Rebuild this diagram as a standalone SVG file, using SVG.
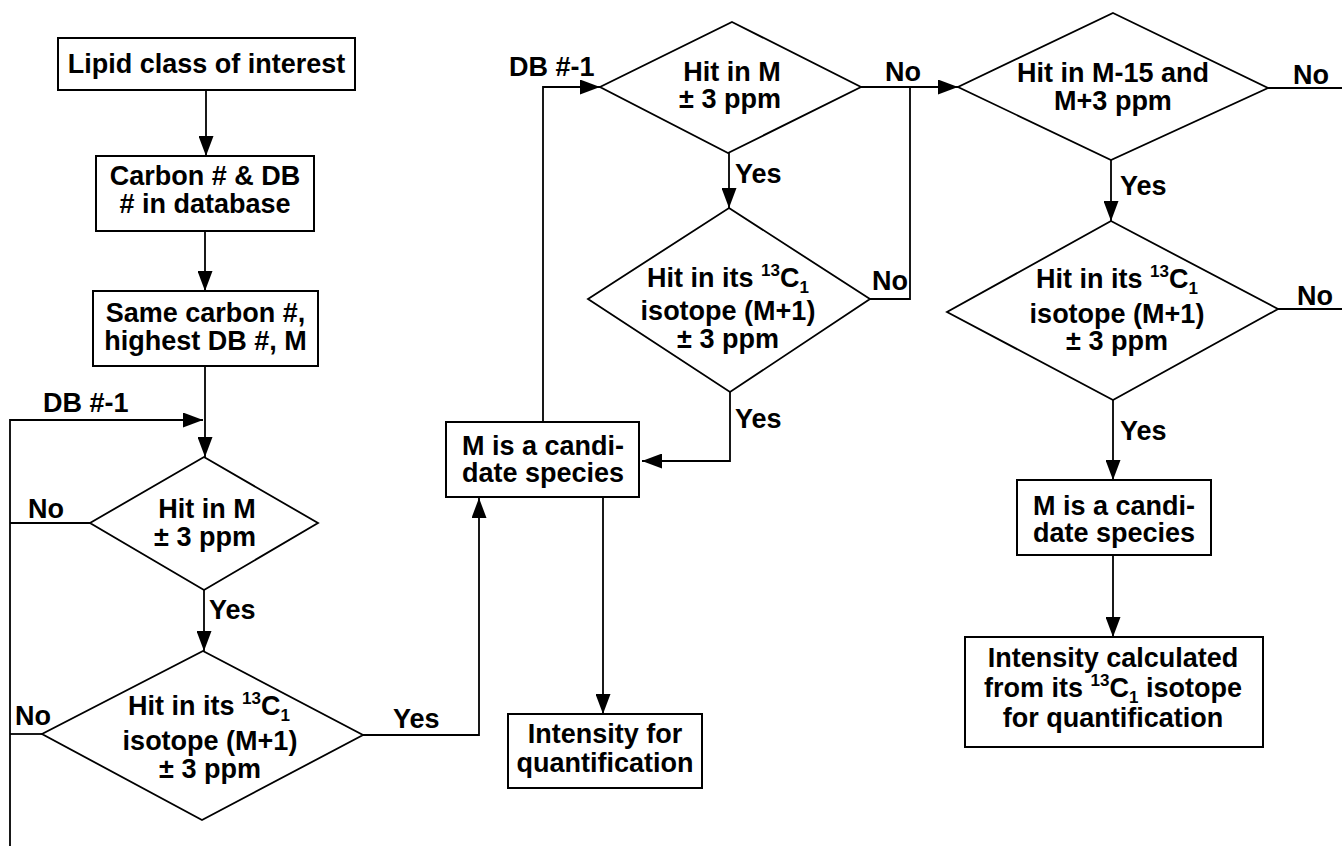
<svg xmlns="http://www.w3.org/2000/svg" width="1342" height="846" viewBox="0 0 1342 846">
<style>
text{font-family:"Liberation Sans",Arial,Helvetica,sans-serif;font-weight:bold;font-size:27px;fill:#000}
.c{text-anchor:middle}
.sup{font-size:17px}
.box{fill:#fff;stroke:#000;stroke-width:2}
.dia{fill:#fff;stroke:#000;stroke-width:1.8}
.ln{fill:none;stroke:#000;stroke-width:1.8}
.arr{fill:none;stroke:#000;stroke-width:1.8;marker-end:url(#ah)}
</style>
<defs>
<marker id="ah" markerUnits="userSpaceOnUse" markerWidth="20" markerHeight="15" refX="20" refY="7.5" orient="auto">
<path d="M0,0 L20,7.5 L0,15 z" fill="#000"/>
</marker>
</defs>
<rect width="1342" height="846" fill="#fff"/>
<g id="connectors">
<path class="arr" d="M206,90 V156"/>
<path class="arr" d="M205,231 V291"/>
<path class="arr" d="M205,366 V457"/>
<path class="arr" d="M10,846 V420 H203"/>
<path class="ln" d="M90,523 H10"/>
<path class="ln" d="M42,734 H10"/>
<path class="arr" d="M204,590 V651"/>
<path class="arr" d="M363,735 H479 V498"/>
<path class="arr" d="M543,422 V87 H600"/>
<path class="arr" d="M729,153 V208"/>
<path class="arr" d="M861,87 H958"/>
<path class="ln" d="M870,299 H910 V87"/>
<path class="arr" d="M730,392 V461 H642"/>
<path class="arr" d="M603,497 V714"/>
<path class="ln" d="M1268,88 H1342"/>
<path class="arr" d="M1111,160 V221"/>
<path class="ln" d="M1278,309 H1342"/>
<path class="arr" d="M1113,400 V480"/>
<path class="arr" d="M1113,555 V637"/>
</g>
<g id="labels">
<text x="43" y="412">DB #-1</text>
<text x="28" y="518">No</text>
<text x="209" y="619">Yes</text>
<text x="15" y="725">No</text>
<text x="393" y="728">Yes</text>
<text x="509" y="76">DB #-1</text>
<text x="885" y="81">No</text>
<text x="735" y="183">Yes</text>
<text x="872" y="290">No</text>
<text x="735" y="428">Yes</text>
<text x="1293" y="84">No</text>
<text x="1120" y="195">Yes</text>
<text x="1297" y="305">No</text>
<text x="1120" y="440">Yes</text>
</g>
<g id="n1">
<rect class="box" x="58" y="38" width="297" height="52"/>
<text class="c" x="206.5" y="73">Lipid class of interest</text>
</g>
<g id="n2">
<rect class="box" x="96" y="156" width="218" height="75"/>
<text class="c" x="205" y="185">Carbon # &amp; DB</text>
<text class="c" x="205" y="213"># in database</text>
</g>
<g id="n3">
<rect class="box" x="93" y="291" width="225" height="75"/>
<text class="c" x="205.5" y="322">Same carbon #,</text>
<text class="c" x="205.5" y="350">highest DB #, M</text>
</g>
<g id="d1">
<polygon class="dia" points="204,457 318,523 204,590 90,523"/>
<text class="c" x="207" y="518">Hit in M</text>
<text class="c" x="205" y="546">± 3 ppm</text>
</g>
<g id="d2">
<polygon class="dia" points="203,651 363,735 202,820 42,734"/>
<text class="c" x="209" y="715">Hit in its <tspan class="sup" dy="-11">13</tspan><tspan dy="11">C</tspan><tspan class="sup" dy="6">1</tspan></text>
<text class="c" x="210" y="750">isotope (M+1)</text>
<text class="c" x="210" y="778">± 3 ppm</text>
</g>
<g id="n4">
<rect class="box" x="446" y="422" width="193" height="75"/>
<text class="c" x="543" y="455">M is a candi-</text>
<text class="c" x="543" y="482">date species</text>
</g>
<g id="n5">
<rect class="box" x="508" y="714" width="194" height="74"/>
<text class="c" x="605" y="743">Intensity for</text>
<text class="c" x="605" y="772">quantification</text>
</g>
<g id="d3">
<polygon class="dia" points="732,22 861,87 728,153 600,87"/>
<text class="c" x="732" y="81">Hit in M</text>
<text class="c" x="730" y="108">± 3 ppm</text>
</g>
<g id="d4">
<polygon class="dia" points="729,208 870,299 730,392 588,299"/>
<text class="c" x="728" y="287">Hit in its <tspan class="sup" dy="-11">13</tspan><tspan dy="11">C</tspan><tspan class="sup" dy="6">1</tspan></text>
<text class="c" x="728" y="320">isotope (M+1)</text>
<text class="c" x="728" y="348">± 3 ppm</text>
</g>
<g id="d5">
<polygon class="dia" points="1113,13 1268,88 1111,160 958,87"/>
<text class="c" x="1113" y="82">Hit in M-15 and</text>
<text class="c" x="1113" y="110">M+3 ppm</text>
</g>
<g id="d6">
<polygon class="dia" points="1111,221 1278,309 1113,400 947,312"/>
<text class="c" x="1117" y="288">Hit in its <tspan class="sup" dy="-11">13</tspan><tspan dy="11">C</tspan><tspan class="sup" dy="6">1</tspan></text>
<text class="c" x="1117" y="323">isotope (M+1)</text>
<text class="c" x="1117" y="350">± 3 ppm</text>
</g>
<g id="n6">
<rect class="box" x="1017" y="480" width="194" height="75"/>
<text class="c" x="1114" y="515">M is a candi-</text>
<text class="c" x="1114" y="542">date species</text>
</g>
<g id="n7">
<rect class="box" x="965" y="637" width="298" height="110"/>
<text class="c" x="1113" y="667">Intensity calculated</text>
<text class="c" x="1113" y="697">from its <tspan class="sup" dy="-11">13</tspan><tspan dy="11">C</tspan><tspan class="sup" dy="6">1</tspan><tspan dy="-6"> isotope</tspan></text>
<text class="c" x="1113" y="727">for quantification</text>
</g>
</svg>
